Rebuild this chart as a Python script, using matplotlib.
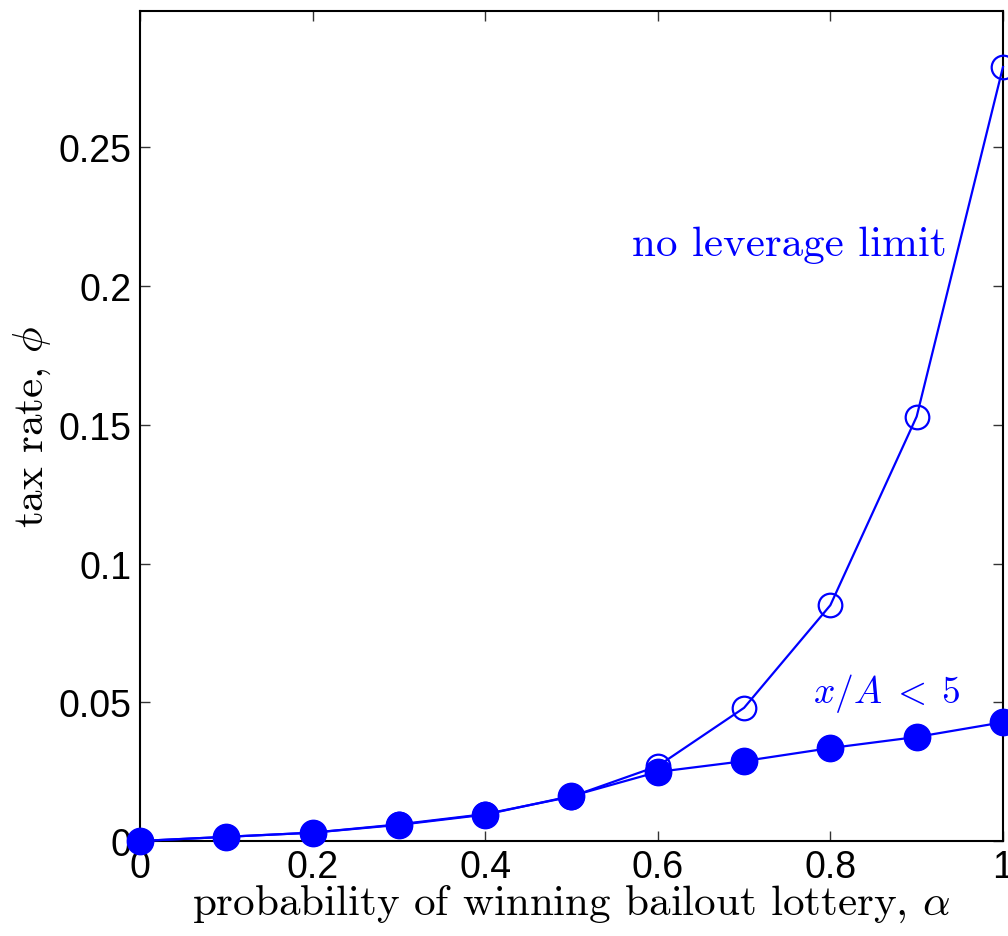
import numpy as np
import matplotlib
matplotlib.use("Agg")
import matplotlib.pyplot as plt

plt.rcParams['mathtext.fontset'] = 'cm'

alpha = [0, 0.1, 0.2, 0.3, 0.4, 0.5, 0.6, 0.7, 0.8, 0.9, 1.0]
phi_nolimit = [0, 0.0015, 0.003, 0.006, 0.0097, 0.016, 0.027, 0.048, 0.085, 0.153, 0.279]
phi_limit = [0, 0.0015, 0.003, 0.0058, 0.0095, 0.0162, 0.0249, 0.0288, 0.0335, 0.0375, 0.0428]

xticks = [0, 0.2, 0.4, 0.6, 0.8, 1]
xticklabels = ['0', '0.2', '0.4', '0.6', '0.8', '1']
yticks = [0, 0.05, 0.1, 0.15, 0.2, 0.25]
yticklabels = ['0', '0.05', '0.1', '0.15', '0.2', '0.25']

fig = plt.figure(figsize=(10.08, 9.37), dpi=100)
ax = fig.add_axes([0.1389, 0.1014, 0.8561, 0.8858])

ax.plot(alpha, phi_nolimit, '-o', color='#0000ff', lw=1.6, ms=17,
        mfc='none', mew=1.6, clip_on=False, zorder=3)
ax.plot(alpha, phi_limit, '-o', color='#0000ff', lw=1.6, ms=19,
        mfc='#0000ff', clip_on=False, zorder=4)

ax.text(0.935, 0.215, 'no leverage limit', color='#0000ff', fontsize=31,
        family='cmr10', ha='right', va='center')
ax.text(0.951, 0.0535, r'$x/A\;<\;5$', color='#0000ff', fontsize=27,
        ha='right', va='center')

ax.set_xlim(0, 1)
ax.set_ylim(0, 0.2992)
ax.set_xticks(xticks)
ax.set_xticklabels(xticklabels)
ax.set_yticks(yticks)
ax.set_yticklabels(yticklabels)
ax.tick_params(direction='in', length=7, width=1, top=True, right=True,
               labelsize=27, color='#333333', pad=6)
for lab in ax.get_xticklabels() + ax.get_yticklabels():
    lab.set_family('Liberation Sans')
for s in ax.spines.values():
    s.set_linewidth(1.5)

ax.set_xlabel(r'probability of winning bailout lottery, $\alpha$', fontsize=31,
              family='cmr10', labelpad=-2)
ax.set_ylabel(r'tax rate, $\phi$', fontsize=31, family='cmr10', labelpad=4)

fig.savefig('out.png', dpi=100)
